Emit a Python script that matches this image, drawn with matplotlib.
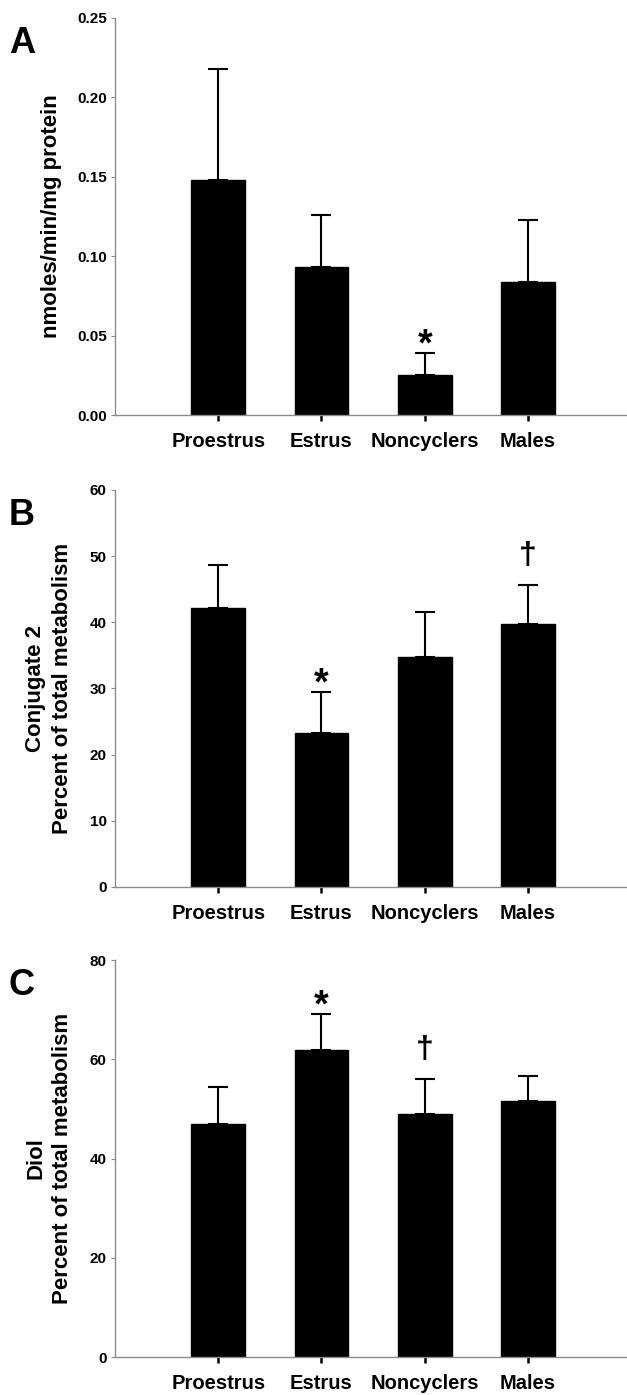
import matplotlib
matplotlib.use("Agg")
import matplotlib.pyplot as plt

plt.rcParams["font.family"] = ["Liberation Sans", "DejaVu Sans"]
plt.rcParams["font.weight"] = "bold"

categories = ["Proestrus", "Estrus", "Noncyclers", "Males"]

# panel A: enzyme activity
a_means = [0.148, 0.093, 0.025, 0.084]
a_errs = [0.070, 0.033, 0.014, 0.039]
a_ticks = [0.00, 0.05, 0.10, 0.15, 0.20, 0.25]
a_ticklabels = ["0.00", "0.05", "0.10", "0.15", "0.20", "0.25"]

# panel B: conjugate 2
b_means = [42.2, 23.2, 34.7, 39.7]
b_errs = [6.5, 6.3, 6.8, 6.0]
b_ticks = [0, 10, 20, 30, 40, 50, 60]

# panel C: diol
c_means = [47.0, 61.8, 49.0, 51.5]
c_errs = [7.5, 7.4, 7.0, 5.2]
c_ticks = [0, 20, 40, 60, 80]

# significance marks: (bar index, symbol)
a_marks = [(2, "*")]
b_marks = [(1, "*"), (3, "\u2020")]
c_marks = [(1, "*"), (2, "\u2020")]

panels = [
    dict(letter="A", means=a_means, errs=a_errs, ticks=a_ticks, labels=a_ticklabels,
         ylim=(0, 0.25), ylabel="nmoles/min/mg protein", labx=-0.104,
         marks=a_marks, bottom=0.7025),
    dict(letter="B", means=b_means, errs=b_errs, ticks=b_ticks, labels=[str(t) for t in b_ticks],
         ylim=(0, 60), ylabel="Conjugate 2\nPercent of total metabolism", labx=-0.082,
         marks=b_marks, bottom=0.3642),
    dict(letter="C", means=c_means, errs=c_errs, ticks=c_ticks, labels=[str(t) for t in c_ticks],
         ylim=(0, 80), ylabel="Diol\nPercent of total metabolism", labx=-0.082,
         marks=c_marks, bottom=0.0272),
]

fig = plt.figure(figsize=(6.27, 13.95), dpi=100)
x = [1, 2, 3, 4]
axis_gray = "#8a8a8a"

for p in panels:
    ax = fig.add_axes([0.1834, p["bottom"], 0.8150, 0.2846])
    ax.bar(x, p["means"], width=0.52, color="black", edgecolor="black", zorder=2)
    ax.errorbar(x, p["means"], yerr=[[0] * 4, p["errs"]], fmt="none",
                ecolor="black", elinewidth=1.5, capsize=7, capthick=1.5, zorder=3)
    ax.set_xlim(0, 4.95)
    ax.set_ylim(*p["ylim"])
    ax.set_yticks(p["ticks"])
    ax.set_yticklabels(p["labels"], fontsize=11, fontweight="bold")
    ax.set_xticks(x)
    ax.set_xticklabels(categories, fontsize=14.5, fontweight="bold")
    ax.tick_params(axis="x", length=4, width=1.8, color="black", pad=8)
    ax.tick_params(axis="y", length=3, width=0.8, color=axis_gray, pad=3)
    for side in ["top", "right"]:
        ax.spines[side].set_visible(False)
    for side in ["left", "bottom"]:
        ax.spines[side].set_color(axis_gray)
        ax.spines[side].set_linewidth(1.0)
    ax.set_ylabel(p["ylabel"], fontsize=16, fontweight="bold", linespacing=1.35)
    ax.yaxis.set_label_coords(p["labx"], 0.5)
    for i, sym in p["marks"]:
        top = p["means"][i] + p["errs"][i]
        if sym == "*":
            ax.annotate(sym, (x[i], top), xytext=(0, -2), textcoords="offset points",
                        ha="center", va="baseline", fontsize=27, fontweight="bold")
        else:
            ax.annotate(sym, (x[i], top), xytext=(0, 15), textcoords="offset points",
                        ha="center", va="baseline", fontsize=23, fontweight="bold")
    fig.text(0.014, p["bottom"] + 0.2846 - 0.006, p["letter"], fontsize=26,
             fontweight="bold", va="top", ha="left")

fig.savefig("out.png", dpi=100)
